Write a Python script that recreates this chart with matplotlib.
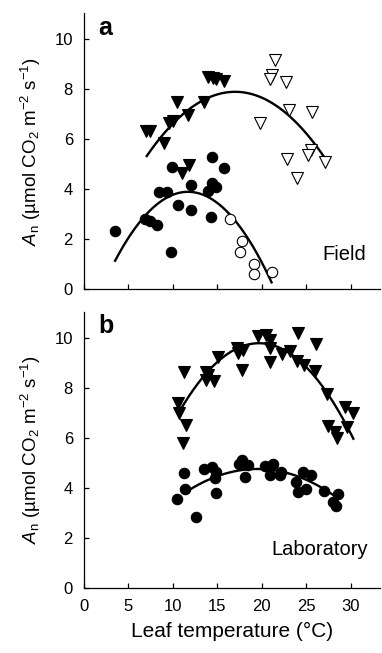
import matplotlib
matplotlib.use("Agg")
import matplotlib.pyplot as plt
import numpy as np

plt.rcParams['font.family'] = ['Liberation Sans', 'DejaVu Sans']
plt.rcParams['mathtext.fontset'] = 'custom'
plt.rcParams['mathtext.rm'] = 'Liberation Sans'
plt.rcParams['mathtext.it'] = 'Liberation Sans:italic'

# ---------------- data ----------------
# Panel a (Field)
a_tri_fill_t = [7.0, 7.4, 9.0, 9.6, 10.0, 10.5, 11.7, 13.5, 14.0, 14.5, 14.9, 15.7, 11.8, 11.0]
a_tri_fill_v = [6.33, 6.35, 5.84, 6.64, 6.75, 7.5, 6.97, 7.5, 8.5, 8.47, 8.41, 8.33, 4.97, 4.64]
a_tri_open_t = [21.5, 21.2, 20.9, 22.7, 23.1, 25.7, 19.8, 25.5, 22.8, 25.2, 27.1, 24.0]
a_tri_open_v = [9.17, 8.57, 8.41, 8.30, 7.17, 7.08, 6.64, 5.57, 5.21, 5.37, 5.08, 4.44]
a_cir_fill_t = [3.5, 6.87, 7.43, 8.26, 9.8, 8.48, 9.3, 9.95, 10.6, 12.0, 12.0, 14.4, 15.8, 13.9, 14.45, 14.9, 14.3]
a_cir_fill_v = [2.34, 2.81, 2.73, 2.57, 1.5, 3.9, 3.88, 4.88, 3.37, 4.17, 3.17, 5.28, 4.87, 3.93, 4.27, 4.1, 2.88]
a_cir_open_t = [16.4, 17.8, 17.6, 19.1, 19.1, 21.1]
a_cir_open_v = [2.81, 1.94, 1.5, 1.01, 0.6, 0.68]

# Panel b (Laboratory)
b_tri_t = [11.2, 10.6, 10.7, 11.5, 11.1, 13.7, 13.7, 14.0, 14.6, 15.06, 17.2, 17.3, 17.9, 17.8,
           19.6, 20.5, 20.9, 20.9, 20.9, 22.3, 23.2, 24.1, 26.1, 24.0, 24.8, 26.0, 27.3, 29.4,
           30.3, 27.5, 28.2, 28.5, 29.6]
b_tri_v = [8.64, 7.38, 6.98, 6.51, 5.78, 8.64, 8.31, 8.5, 8.27, 9.24, 9.6, 9.38, 9.51, 8.71,
           10.07, 10.11, 9.91, 9.58, 9.04, 9.34, 9.48, 10.2, 9.74, 9.08, 8.91, 8.68, 7.74, 7.24,
           6.98, 6.47, 6.24, 5.98, 6.44]
b_cir_t = [10.5, 11.2, 11.4, 12.6, 13.5, 14.4, 14.9, 14.75, 14.8, 17.4, 17.8, 18.5, 18.1, 20.4,
           21.25, 20.9, 22.2, 22.0, 24.6, 25.5, 23.8, 24.1, 25.0, 26.95, 28.6, 28.0, 28.3]
b_cir_v = [3.55, 4.6, 3.94, 2.84, 4.74, 4.84, 4.64, 4.38, 3.8, 4.95, 5.11, 4.91, 4.44, 4.88,
           4.95, 4.51, 4.64, 4.5, 4.64, 4.51, 4.24, 3.84, 3.94, 3.88, 3.75, 3.44, 3.27]

# Quadratic fit curves: [peak temperature, peak value, curvature, t start, t end]
fit_a_tri = [17.0, 7.9, 0.026, 7.06, 27.3]
fit_a_cir = [11.7, 3.9, 0.041, 3.5, 21.1]
fit_b_tri = [19.7, 9.78, 0.034, 10.8, 30.3]
fit_b_cir = [19.5, 4.75, 0.0143, 11.75, 28.1]

x_ticks = [0, 5, 10, 15, 20, 25, 30]
y_ticks = [0, 2, 4, 6, 8, 10]
x_label = "Leaf temperature (°C)"
y_label = r"$A_{\mathrm{n}}$ (µmol CO$_{2}$ m$^{-2}$ s$^{-1}$)"

# ---------------- figure ----------------
fig = plt.figure(figsize=(3.82, 6.53), dpi=100)
W, H = 382, 653
ax_a = fig.add_axes([84 / W, 1 - 289.3 / H, (380 - 84) / W, (289.3 - 13.3) / H])
ax_b = fig.add_axes([84 / W, 1 - 587.7 / H, (380 - 84) / W, (587.7 - 311.7) / H])

def curve(ax, p):
    h, k, a, t0, t1 = p
    t = np.linspace(t0, t1, 200)
    ax.plot(t, k - a * (t - h) ** 2, color='black', lw=1.7, zorder=2)

tri_kw = dict(marker='v', ms=8.5, ls='none', mec='black', mew=0.8, zorder=3)
cir_kw = dict(marker='o', ms=7.5, ls='none', mec='black', mew=0.8, zorder=3)

curve(ax_a, fit_a_tri)
curve(ax_a, fit_a_cir)
ax_a.plot(a_tri_fill_t, a_tri_fill_v, mfc='black', **tri_kw)
ax_a.plot(a_tri_open_t, a_tri_open_v, mfc='white', **tri_kw)
ax_a.plot(a_cir_fill_t, a_cir_fill_v, mfc='black', **cir_kw)
ax_a.plot(a_cir_open_t, a_cir_open_v, mfc='white', **cir_kw)

curve(ax_b, fit_b_tri)
curve(ax_b, fit_b_cir)
ax_b.plot(b_tri_t, b_tri_v, mfc='black', **tri_kw)
ax_b.plot(b_cir_t, b_cir_v, mfc='black', **cir_kw)

for ax, letter, name, nx, ny in [(ax_a, 'a', 'Field', 26.8, 1.17),
                                 (ax_b, 'b', 'Laboratory', 21.1, 1.3)]:
    ax.set_xlim(0, 33.3)
    ax.set_ylim(0, 11.04)
    ax.set_xticks(x_ticks)
    ax.set_yticks(y_ticks)
    for s in ['top', 'right']:
        ax.spines[s].set_visible(False)
    for s in ['left', 'bottom']:
        ax.spines[s].set_linewidth(0.9)
    ax.tick_params(direction='in', length=3.5, width=0.9, labelsize=12, pad=8)
    ax.set_ylabel(y_label, fontsize=13.5, labelpad=8)
    ax.text(1.6, 10.95, letter, fontsize=18, fontweight='bold', va='top', ha='left')
    ax.text(nx, ny, name, fontsize=14.5, ha='left', va='baseline')

ax_a.tick_params(labelbottom=False)
ax_b.set_xlabel(x_label, fontsize=15, labelpad=6)

fig.savefig("out.png", dpi=100)
